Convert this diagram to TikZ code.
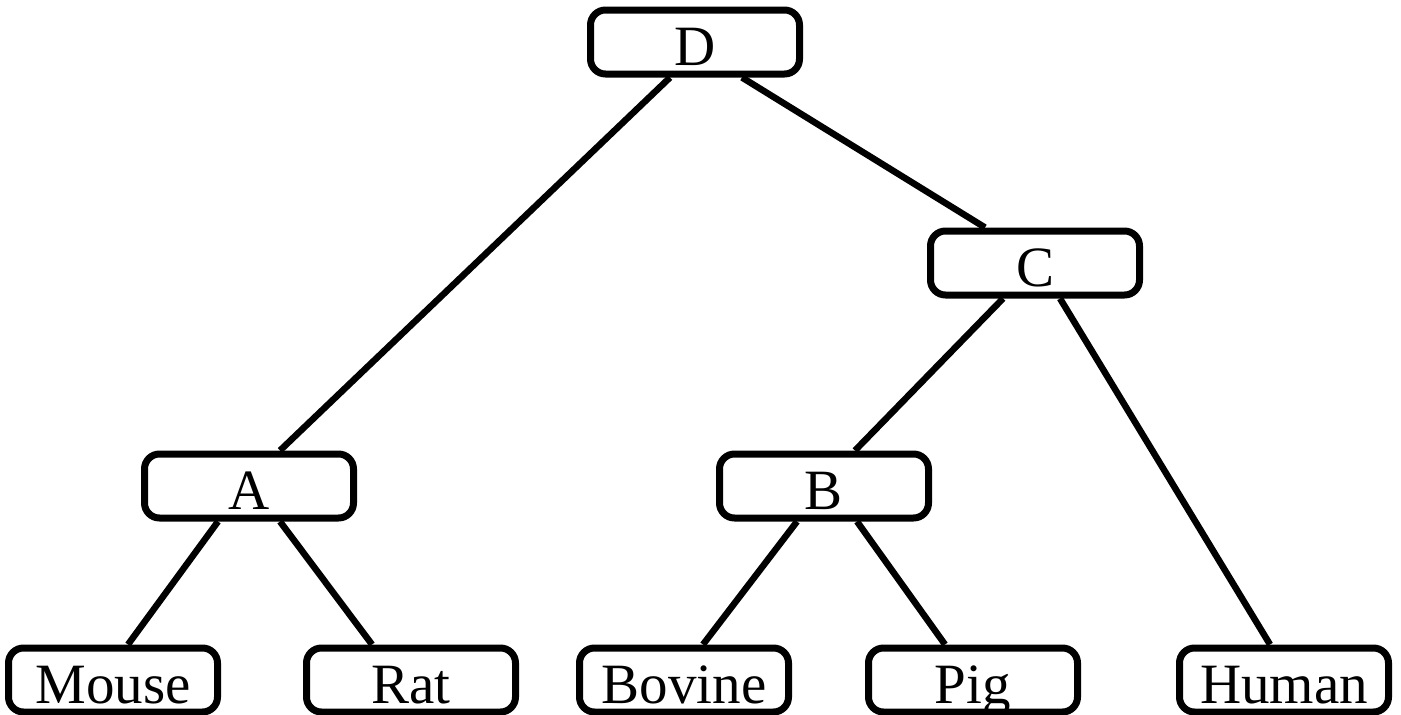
\documentclass[tikz,border=0pt]{standalone}
\usepackage{fontspec}
\setmainfont{Liberation Serif}
\usetikzlibrary{calc,backgrounds}
\begin{document}
\begin{tikzpicture}[x=1pt,y=-1pt,
  box/.style={draw, line width=7pt, rounded corners=15pt, minimum width=209pt,
    minimum height=64pt, inner sep=0pt, fill=white,
    font=\fontsize{57}{62}\selectfont, text height=46pt, text depth=0pt},
  edge/.style={line width=6.5pt}]
\useasboundingbox (0,0) rectangle (1401,715);
\node[box] (D) at (695,42) {D};
\node[box] (C) at (1035,263) {C};
\node[box] (A) at (249,486) {A};
\node[box] (B) at (824,486) {B};
\node[box] (Mouse) at (113,680) {Mouse};
\node[box] (Rat) at (411,680) {Rat};
\node[box] (Bovine) at (684,680) {Bovine};
\node[box] (Pig) at (973,680) {Pig};
\node[box] (Human) at (1284,680) {Human};
\begin{scope}[on background layer]
\draw[edge] ($(D.south)+(-25,0)$) -- ($(A.north)+(31,0)$);
\draw[edge] ($(D.south)+(47,0)$) -- ($(C.north)+(-50,0)$);
\draw[edge] ($(C.south)+(-32,0)$) -- ($(B.north)+(31,0)$);
\draw[edge] ($(C.south)+(25,0)$) -- ($(Human.north)+(-14,0)$);
\draw[edge] ($(A.south)+(-31,0)$) -- ($(Mouse.north)+(15,0)$);
\draw[edge] ($(A.south)+(31,0)$) -- ($(Rat.north)+(-39,0)$);
\draw[edge] ($(B.south)+(-27,0)$) -- ($(Bovine.north)+(19,0)$);
\draw[edge] ($(B.south)+(33,0)$) -- ($(Pig.north)+(-28,0)$);
\end{scope}
\end{tikzpicture}
\end{document}
